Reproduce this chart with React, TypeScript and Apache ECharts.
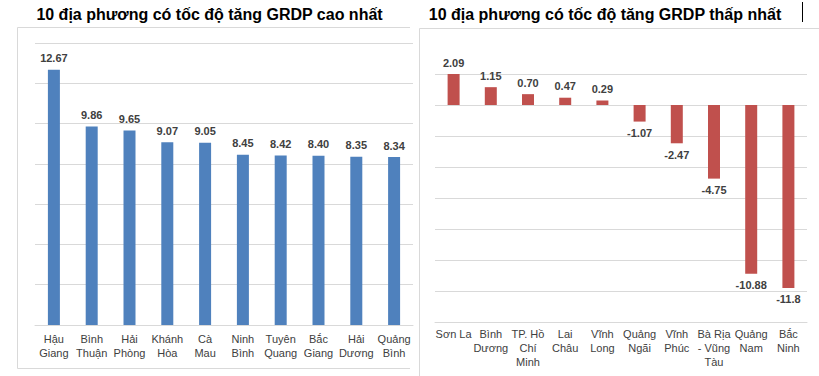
import React, { useEffect, useRef } from "react";
import * as echarts from "echarts";

const titleHigh = "10 địa phương có tốc độ tăng GRDP cao nhất";
const titleLow = "10 địa phương có tốc độ tăng GRDP thấp nhất";

const highCategories = [
  "Hậu\nGiang",
  "Bình\nThuận",
  "Hải\nPhòng",
  "Khánh\nHòa",
  "Cà\nMau",
  "Ninh\nBình",
  "Tuyên\nQuang",
  "Bắc\nGiang",
  "Hải\nDương",
  "Quảng\nBình",
];
const highValues = [12.67, 9.86, 9.65, 9.07, 9.05, 8.45, 8.42, 8.4, 8.35, 8.34];

const lowCategories = [
  "Sơn La",
  "Bình\nDương",
  "TP. Hồ\nChí\nMinh",
  "Lai\nChâu",
  "Vĩnh\nLong",
  "Quảng\nNgãi",
  "Vĩnh\nPhúc",
  "Bà Rịa\n- Vũng\nTàu",
  "Quảng\nNam",
  "Bắc\nNinh",
];
const lowValues = [2.09, 1.15, 0.7, 0.47, 0.29, -1.07, -2.47, -4.75, -10.88, -11.8];
const lowLabels = ["2.09", "1.15", "0.70", "0.47", "0.29", "-1.07", "-2.47", "-4.75", "-10.88", "-11.8"];

const FONT = "'Liberation Sans', Arial, sans-serif";
const GRID_COLOR = "#D9D9D9";
const TEXT_COLOR = "#404040";

export default function App() {
  const ref = useRef<HTMLDivElement>(null);
  useEffect(() => {
    document.body.style.margin = "0";
    if (!ref.current) return;
    const chart = echarts.init(ref.current, undefined, { renderer: "svg" });
    const axisLabel = {
      interval: 0,
      color: TEXT_COLOR,
      fontSize: 11,
      fontFamily: FONT,
      lineHeight: 14,
    };
    chart.setOption({
      animation: false,
      backgroundColor: "#ffffff",
      textStyle: { fontFamily: FONT },
      grid: [
        { left: 35, top: 43, width: 378, height: 282 },
        { left: 435, top: 74, width: 372, height: 248 },
      ],
      xAxis: [
        {
          type: "category",
          gridIndex: 0,
          data: highCategories,
          axisTick: { show: false },
          axisLine: { show: true, lineStyle: { color: GRID_COLOR } },
          axisLabel: { ...axisLabel, margin: 7 },
        },
        {
          type: "category",
          gridIndex: 1,
          data: lowCategories,
          position: "bottom",
          axisTick: { show: false },
          axisLine: { show: true, onZero: false, lineStyle: { color: GRID_COLOR } },
          axisLabel: { ...axisLabel, margin: 5 },
        },
      ],
      yAxis: [
        {
          type: "value",
          gridIndex: 0,
          min: 0,
          max: 14,
          interval: 2,
          axisLabel: { show: false },
          axisLine: { show: false },
          axisTick: { show: false },
          splitLine: { lineStyle: { color: GRID_COLOR } },
        },
        {
          type: "value",
          gridIndex: 1,
          min: -14,
          max: 2,
          interval: 2,
          axisLabel: { show: false },
          axisLine: { show: false },
          axisTick: { show: false },
          splitLine: { lineStyle: { color: GRID_COLOR } },
        },
      ],
      series: [
        {
          type: "bar",
          xAxisIndex: 0,
          yAxisIndex: 0,
          data: highValues,
          barWidth: 12,
          itemStyle: { color: "#4F81BD" },
          label: {
            show: true,
            position: "top",
            distance: 6,
            color: TEXT_COLOR,
            fontSize: 11,
            fontWeight: "bold",
            fontFamily: FONT,
            formatter: (p: any) => highValues[p.dataIndex].toFixed(2),
          },
        },
        {
          type: "bar",
          xAxisIndex: 1,
          yAxisIndex: 1,
          data: lowValues.map((v, i) => ({
            value: v,
            label: { position: v >= 0 ? "top" : "bottom" },
          })),
          barWidth: 12,
          itemStyle: { color: "#C0504D" },
          label: {
            show: true,
            distance: 6,
            color: TEXT_COLOR,
            fontSize: 11,
            fontWeight: "bold",
            fontFamily: FONT,
            formatter: (p: any) => lowLabels[p.dataIndex],
          },
        },
      ],
      graphic: [
        {
          type: "polyline",
          shape: { points: [[410, 27.5], [17.5, 27.5], [17.5, 368.5], [410, 368.5]] },
          style: { stroke: GRID_COLOR, fill: "none", lineWidth: 1 },
          silent: true,
        },
        {
          type: "polyline",
          shape: { points: [[819, 28.5], [419.5, 28.5], [419.5, 376]] },
          style: { stroke: GRID_COLOR, fill: "none", lineWidth: 1 },
          silent: true,
        },
        {
          type: "line",
          shape: { x1: 802.5, y1: 2, x2: 802.5, y2: 22 },
          style: { stroke: "#000000", lineWidth: 1 },
          silent: true,
        },
        {
          type: "text",
          x: 209.5,
          y: 14,
          style: {
            text: titleHigh,
            fill: "#000000",
            font: `bold 16px ${FONT}`,
            textAlign: "center",
            textVerticalAlign: "middle",
          },
        },
        {
          type: "text",
          x: 605,
          y: 14,
          style: {
            text: titleLow,
            fill: "#000000",
            font: `bold 16px ${FONT}`,
            textAlign: "center",
            textVerticalAlign: "middle",
          },
        },
      ],
    });
    return () => chart.dispose();
  }, []);
  return (
    <div
      ref={ref}
      style={{ position: "absolute", left: 0, top: 0, width: 819, height: 376 }}
    />
  );
}
